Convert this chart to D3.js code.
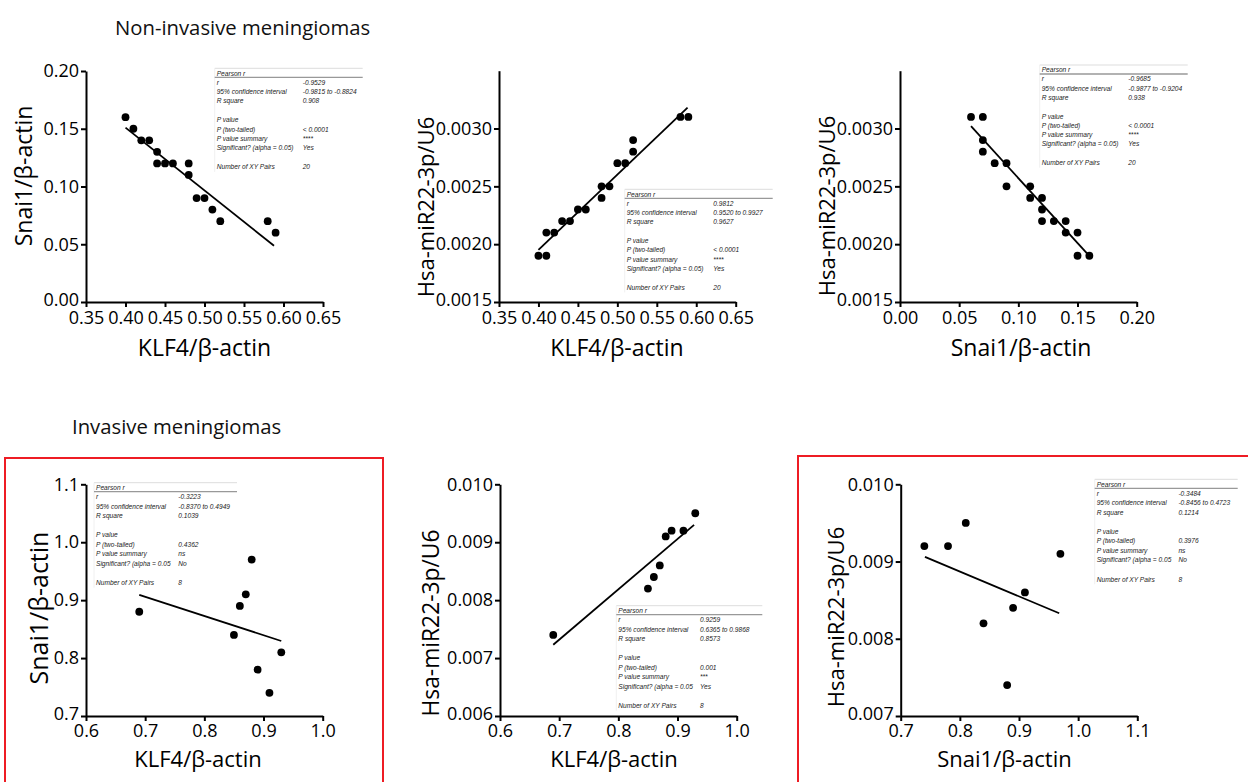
<!DOCTYPE html>
<html><head><meta charset="utf-8">
<script src="https://cdn.jsdelivr.net/npm/d3@7"></script>
<style>body{margin:0;background:#fff}</style>
</head><body>
<svg id="c" width="1248" height="782" xmlns="http://www.w3.org/2000/svg"></svg>
<script>
// ---------- DATA ----------
// Panel 1: KLF4 vs Snai1 (non-invasive)
const p1X = [0.40,0.41,0.42,0.43,0.44,0.44,0.45,0.46,0.48,0.48,0.49,0.50,0.51,0.52,0.58,0.59];
const p1Y = [0.16,0.15,0.14,0.14,0.13,0.12,0.12,0.12,0.12,0.11,0.09,0.09,0.08,0.07,0.07,0.06];
const p1LineX = [0.40, 0.588];
const p1LineY = [0.151, 0.0487];
// Panel 2: KLF4 vs miR22 (non-invasive)
const p2X = [0.40,0.41,0.41,0.42,0.43,0.44,0.45,0.46,0.48,0.48,0.49,0.50,0.51,0.52,0.52,0.58,0.59];
const p2Y = [0.0019,0.0019,0.0021,0.0021,0.0022,0.0022,0.0023,0.0023,0.0025,0.0024,0.0025,0.0027,0.0027,0.0028,0.0029,0.0031,0.0031];
const p2LineX = [0.40, 0.589];
const p2LineY = [0.00195, 0.00318];
// Panel 3: Snai1 vs miR22 (non-invasive)
const p3X = [0.06,0.07,0.07,0.07,0.08,0.09,0.09,0.11,0.11,0.12,0.12,0.12,0.13,0.14,0.14,0.15,0.15,0.16];
const p3Y = [0.0031,0.0031,0.0029,0.0028,0.0027,0.0027,0.0025,0.0025,0.0024,0.0024,0.0023,0.0022,0.0022,0.0022,0.0021,0.0021,0.0019,0.0019];
const p3LineX = [0.06, 0.158];
const p3LineY = [0.00302, 0.00192];
// Panel 4: KLF4 vs Snai1 (invasive)
const p4X = [0.69,0.85,0.86,0.87,0.88,0.89,0.91,0.93];
const p4Y = [0.88,0.84,0.89,0.91,0.97,0.78,0.74,0.81];
const p4LineX = [0.69, 0.93];
const p4LineY = [0.909, 0.8295];
// Panel 5: KLF4 vs miR22 (invasive)
const p5X = [0.69,0.85,0.86,0.87,0.88,0.89,0.91,0.93];
const p5Y = [0.0074,0.0082,0.0084,0.0086,0.0091,0.0092,0.0092,0.0095];
const p5LineX = [0.69, 0.928];
const p5LineY = [0.00723, 0.0093];
// Panel 6: Snai1 vs miR22 (invasive)
const p6X = [0.74,0.78,0.81,0.84,0.88,0.89,0.91,0.97];
const p6Y = [0.0092,0.0092,0.0095,0.0082,0.0074,0.0084,0.0086,0.0091];
const p6LineX = [0.741, 0.968];
const p6LineY = [0.00906, 0.00833];

// Tick values
const ticksKLF4top = [0.35,0.40,0.45,0.50,0.55,0.60,0.65];
const ticksSnaiTop = [0.00,0.05,0.10,0.15,0.20];
const ticksMirTop = [0.0015,0.0020,0.0025,0.0030];
const ticksKLF4bot = [0.6,0.7,0.8,0.9,1.0];
const ticksSnaiBotY = [0.7,0.8,0.9,1.0,1.1];
const ticksMirBot5 = [0.006,0.007,0.008,0.009,0.010];
const ticksMirBot6 = [0.007,0.008,0.009,0.010];
const ticksSnaiBotX = [0.7,0.8,0.9,1.0,1.1];

// Stats tables
const statLabelsTop = ["r","95% confidence interval","R square","","P value","P (two-tailed)","P value summary","Significant? (alpha = 0.05)","","Number of XY Pairs"];
const statLabelsBot = ["r","95% confidence interval","R square","","P value","P (two-tailed)","P value summary","Significant? (alpha = 0.05","","Number of XY Pairs"];
const stat1 = ["-0.9529","-0.9815 to -0.8824","0.908","","","< 0.0001","****","Yes","","20"];
const stat2 = ["0.9812","0.9520 to 0.9927","0.9627","","","< 0.0001","****","Yes","","20"];
const stat3 = ["-0.9685","-0.9877 to -0.9204","0.938","","","< 0.0001","****","Yes","","20"];
const stat4 = ["-0.3223","-0.8370 to 0.4949","0.1039","","","0.4362","ns","No","","8"];
const stat5 = ["0.9259","0.6365 to 0.9868","0.8573","","","0.001","***","Yes","","8"];
const stat6 = ["-0.3484","-0.8456 to 0.4723","0.1214","","","0.3976","ns","No","","8"];

const groupTitles = ["Non-invasive meningiomas","Invasive meningiomas"];

// ---------- LAYOUT ----------
const svg = d3.select("#c");
svg.append("rect").attr("width",1248).attr("height",782).attr("fill","#fff");

const panels = [
 {x:p1X,y:p1Y,lx:p1LineX,ly:p1LineY, ox:86, oy:302, x1:323, y1:71, xd:[0.35,0.65], yd:[0,0.20], xt:ticksKLF4top, yt:ticksSnaiTop, xf:".2f", yf:".2f", xpad:4.5,
  xl:"KLF4/β-actin", yl:"Snai1/β-actin", xlp:[204.5,347], ylp:[23,176], xls:23, yls:23, stats:stat1, labels:statLabelsTop, tb:[216.7,68.3], tw:146, vc:86, step:9.4},
 {x:p2X,y:p2Y,lx:p2LineX,ly:p2LineY, ox:499, oy:302, x1:735.7, y1:70.7, xd:[0.35,0.65], yd:[0.0015,0.0035], xt:ticksKLF4top, yt:ticksMirTop, xf:".2f", yf:".4f", xpad:4.5,
  xl:"KLF4/β-actin", yl:"Hsa-miR22-3p/U6", xlp:[617,347], ylp:[425,207], xls:23, yls:22, stats:stat2, labels:statLabelsTop, tb:[626.7,189.3], tw:146, vc:86.6, step:9.35},
 {x:p3X,y:p3Y,lx:p3LineX,ly:p3LineY, ox:900, oy:302, x1:1136.7, y1:70.7, xd:[0,0.20], yd:[0.0015,0.0035], xt:ticksSnaiTop, yt:ticksMirTop, xf:".2f", yf:".4f", xpad:4.5,
  xl:"Snai1/β-actin", yl:"Hsa-miR22-3p/U6", xlp:[1021,347], ylp:[826,206], xls:23, yls:22, stats:stat3, labels:statLabelsTop, tb:[1041.7,65], tw:146, vc:86.6, step:9.3},
 {x:p4X,y:p4Y,lx:p4LineX,ly:p4LineY, ox:86, oy:716, x1:322.7, y1:484.3, xd:[0.6,1.0], yd:[0.7,1.1], xt:ticksKLF4bot, yt:ticksSnaiBotY, xf:".1f", yf:".1f", xpad:3,
  xl:"KLF4/β-actin", yl:"Snai1/β-actin", xlp:[198,758], ylp:[38.3,608], xls:22, yls:25, stats:stat4, labels:statLabelsBot, tb:[96,482.7], tw:141, vc:82.3, step:9.55},
 {x:p5X,y:p5Y,lx:p5LineX,ly:p5LineY, ox:500, oy:716, x1:736.7, y1:484.3, xd:[0.6,1.0], yd:[0.006,0.010], xt:ticksKLF4bot, yt:ticksMirBot5, xf:".1f", yf:".3f", xpad:3,
  xl:"KLF4/β-actin", yl:"Hsa-miR22-3p/U6", xlp:[614,758], ylp:[430.7,623], xls:22, yls:22.8, stats:stat5, labels:statLabelsBot, tb:[618.3,605.7], tw:144, vc:81.7, step:9.55},
 {x:p6X,y:p6Y,lx:p6LineX,ly:p6LineY, ox:900.7, oy:716, x1:1137.3, y1:484.3, xd:[0.7,1.1], yd:[0.007,0.010], xt:ticksSnaiBotX, yt:ticksMirBot6, xf:".1f", yf:".3f", xpad:3,
  xl:"Snai1/β-actin", yl:"Hsa-miR22-3p/U6", xlp:[1004.5,758], ylp:[835,617], xls:22, yls:22, stats:stat6, labels:statLabelsBot, tb:[1096.7,479.3], tw:141, vc:81.7, step:9.55}
];

const FONT = "'Open Sans', 'DejaVu Sans', sans-serif";
const TFONT = "'Liberation Sans', Arial, sans-serif";

// Group titles
svg.append("text").attr("x",115).attr("y",35).text(groupTitles[0])
  .attr("font-family",FONT).attr("font-size",20.3).attr("fill","#111");
svg.append("text").attr("x",72).attr("y",434).text(groupTitles[1])
  .attr("font-family",FONT).attr("font-size",20.3).attr("fill","#111");

// Red highlight boxes
svg.append("rect").attr("x",5).attr("y",458).attr("width",378).attr("height",340)
  .attr("fill","none").attr("stroke","#ee1c24").attr("stroke-width",2);
svg.append("rect").attr("x",798).attr("y",456).attr("width",470).attr("height",340)
  .attr("fill","none").attr("stroke","#ee1c24").attr("stroke-width",2);

panels.forEach(p => {
  const g = svg.append("g");
  const xs = d3.scaleLinear().domain(p.xd).range([p.ox, p.x1]);
  const ys = d3.scaleLinear().domain(p.yd).range([p.oy, p.y1]);

  // stats table (white background)
  const t = g.append("g").attr("transform",`translate(${p.tb[0]},${p.tb[1]})`);
  const tH = 14 + p.step*9 + 5;
  t.append("rect").attr("x",-2).attr("y",0).attr("width",p.tw+2).attr("height",tH).attr("fill","#fff");
  t.append("line").attr("x1",-2).attr("x2",p.tw).attr("y1",0).attr("y2",0).attr("stroke","#ddd").attr("stroke-width",1);
  t.append("line").attr("x1",-2).attr("x2",-2).attr("y1",0).attr("y2",tH).attr("stroke","#f0f0f0").attr("stroke-width",1);
  t.append("text").attr("x",0).attr("y",7.3).text("Pearson r")
    .attr("font-family",TFONT).attr("font-style","italic").attr("font-size",6.6).attr("fill","#222");
  t.append("line").attr("x1",-2).attr("x2",p.tw).attr("y1",9).attr("y2",9).attr("stroke","#999").attr("stroke-width",1.3);
  p.labels.forEach((lab,i) => {
    const yy = 14 + i*p.step + 2.3;
    t.append("text").attr("x",0).attr("y",yy).text(lab)
      .attr("font-family",TFONT).attr("font-style","italic").attr("font-size",6.6).attr("fill","#222");
    t.append("text").attr("x",p.vc).attr("y",yy).text(p.stats[i])
      .attr("font-family",TFONT).attr("font-style","italic").attr("font-size",6.6).attr("fill","#222");
  });

  // axes
  const xa = d3.axisBottom(xs).tickValues(p.xt).tickFormat(d3.format(p.xf)).tickSize(5).tickSizeOuter(0).tickPadding(p.xpad);
  const ya = d3.axisLeft(ys).tickValues(p.yt).tickFormat(d3.format(p.yf)).tickSize(5).tickSizeOuter(0).tickPadding(2);
  const gx = g.append("g").attr("transform",`translate(0,${p.oy})`).call(xa);
  const gy = g.append("g").attr("transform",`translate(${p.ox},0)`).call(ya);
  [gx,gy].forEach(a => {
    a.attr("font-family",FONT).attr("font-size",18);
    a.selectAll("path,line").attr("stroke","#000").attr("stroke-width",2);
    a.selectAll("text").attr("fill","#000");
  });
  // nudge the lowest y tick label up a little so it clears the x tick labels at the corner
  gy.selectAll(".tick text").filter(d => d === p.yt[0]).attr("dy","0.2em");

  // regression line
  g.append("line")
    .attr("x1",xs(p.lx[0])).attr("y1",ys(p.ly[0]))
    .attr("x2",xs(p.lx[1])).attr("y2",ys(p.ly[1]))
    .attr("stroke","#000").attr("stroke-width",1.8);

  // points
  g.selectAll("circle.pt").data(d3.range(p.x.length)).join("circle")
    .attr("class","pt")
    .attr("cx",i => xs(p.x[i])).attr("cy",i => ys(p.y[i])).attr("r",3.9).attr("fill","#000");

  // axis titles
  g.append("text").attr("x",p.xlp[0]).attr("y",p.xlp[1]).attr("text-anchor","middle")
    .attr("dominant-baseline","central").text(p.xl)
    .attr("font-family",FONT).attr("font-size",p.xls).attr("fill","#000");
  g.append("text").attr("transform",`translate(${p.ylp[0]},${p.ylp[1]}) rotate(-90)`)
    .attr("text-anchor","middle").attr("dominant-baseline","central").text(p.yl)
    .attr("font-family",FONT).attr("font-size",p.yls).attr("fill","#000");
});
</script>
</body></html>
